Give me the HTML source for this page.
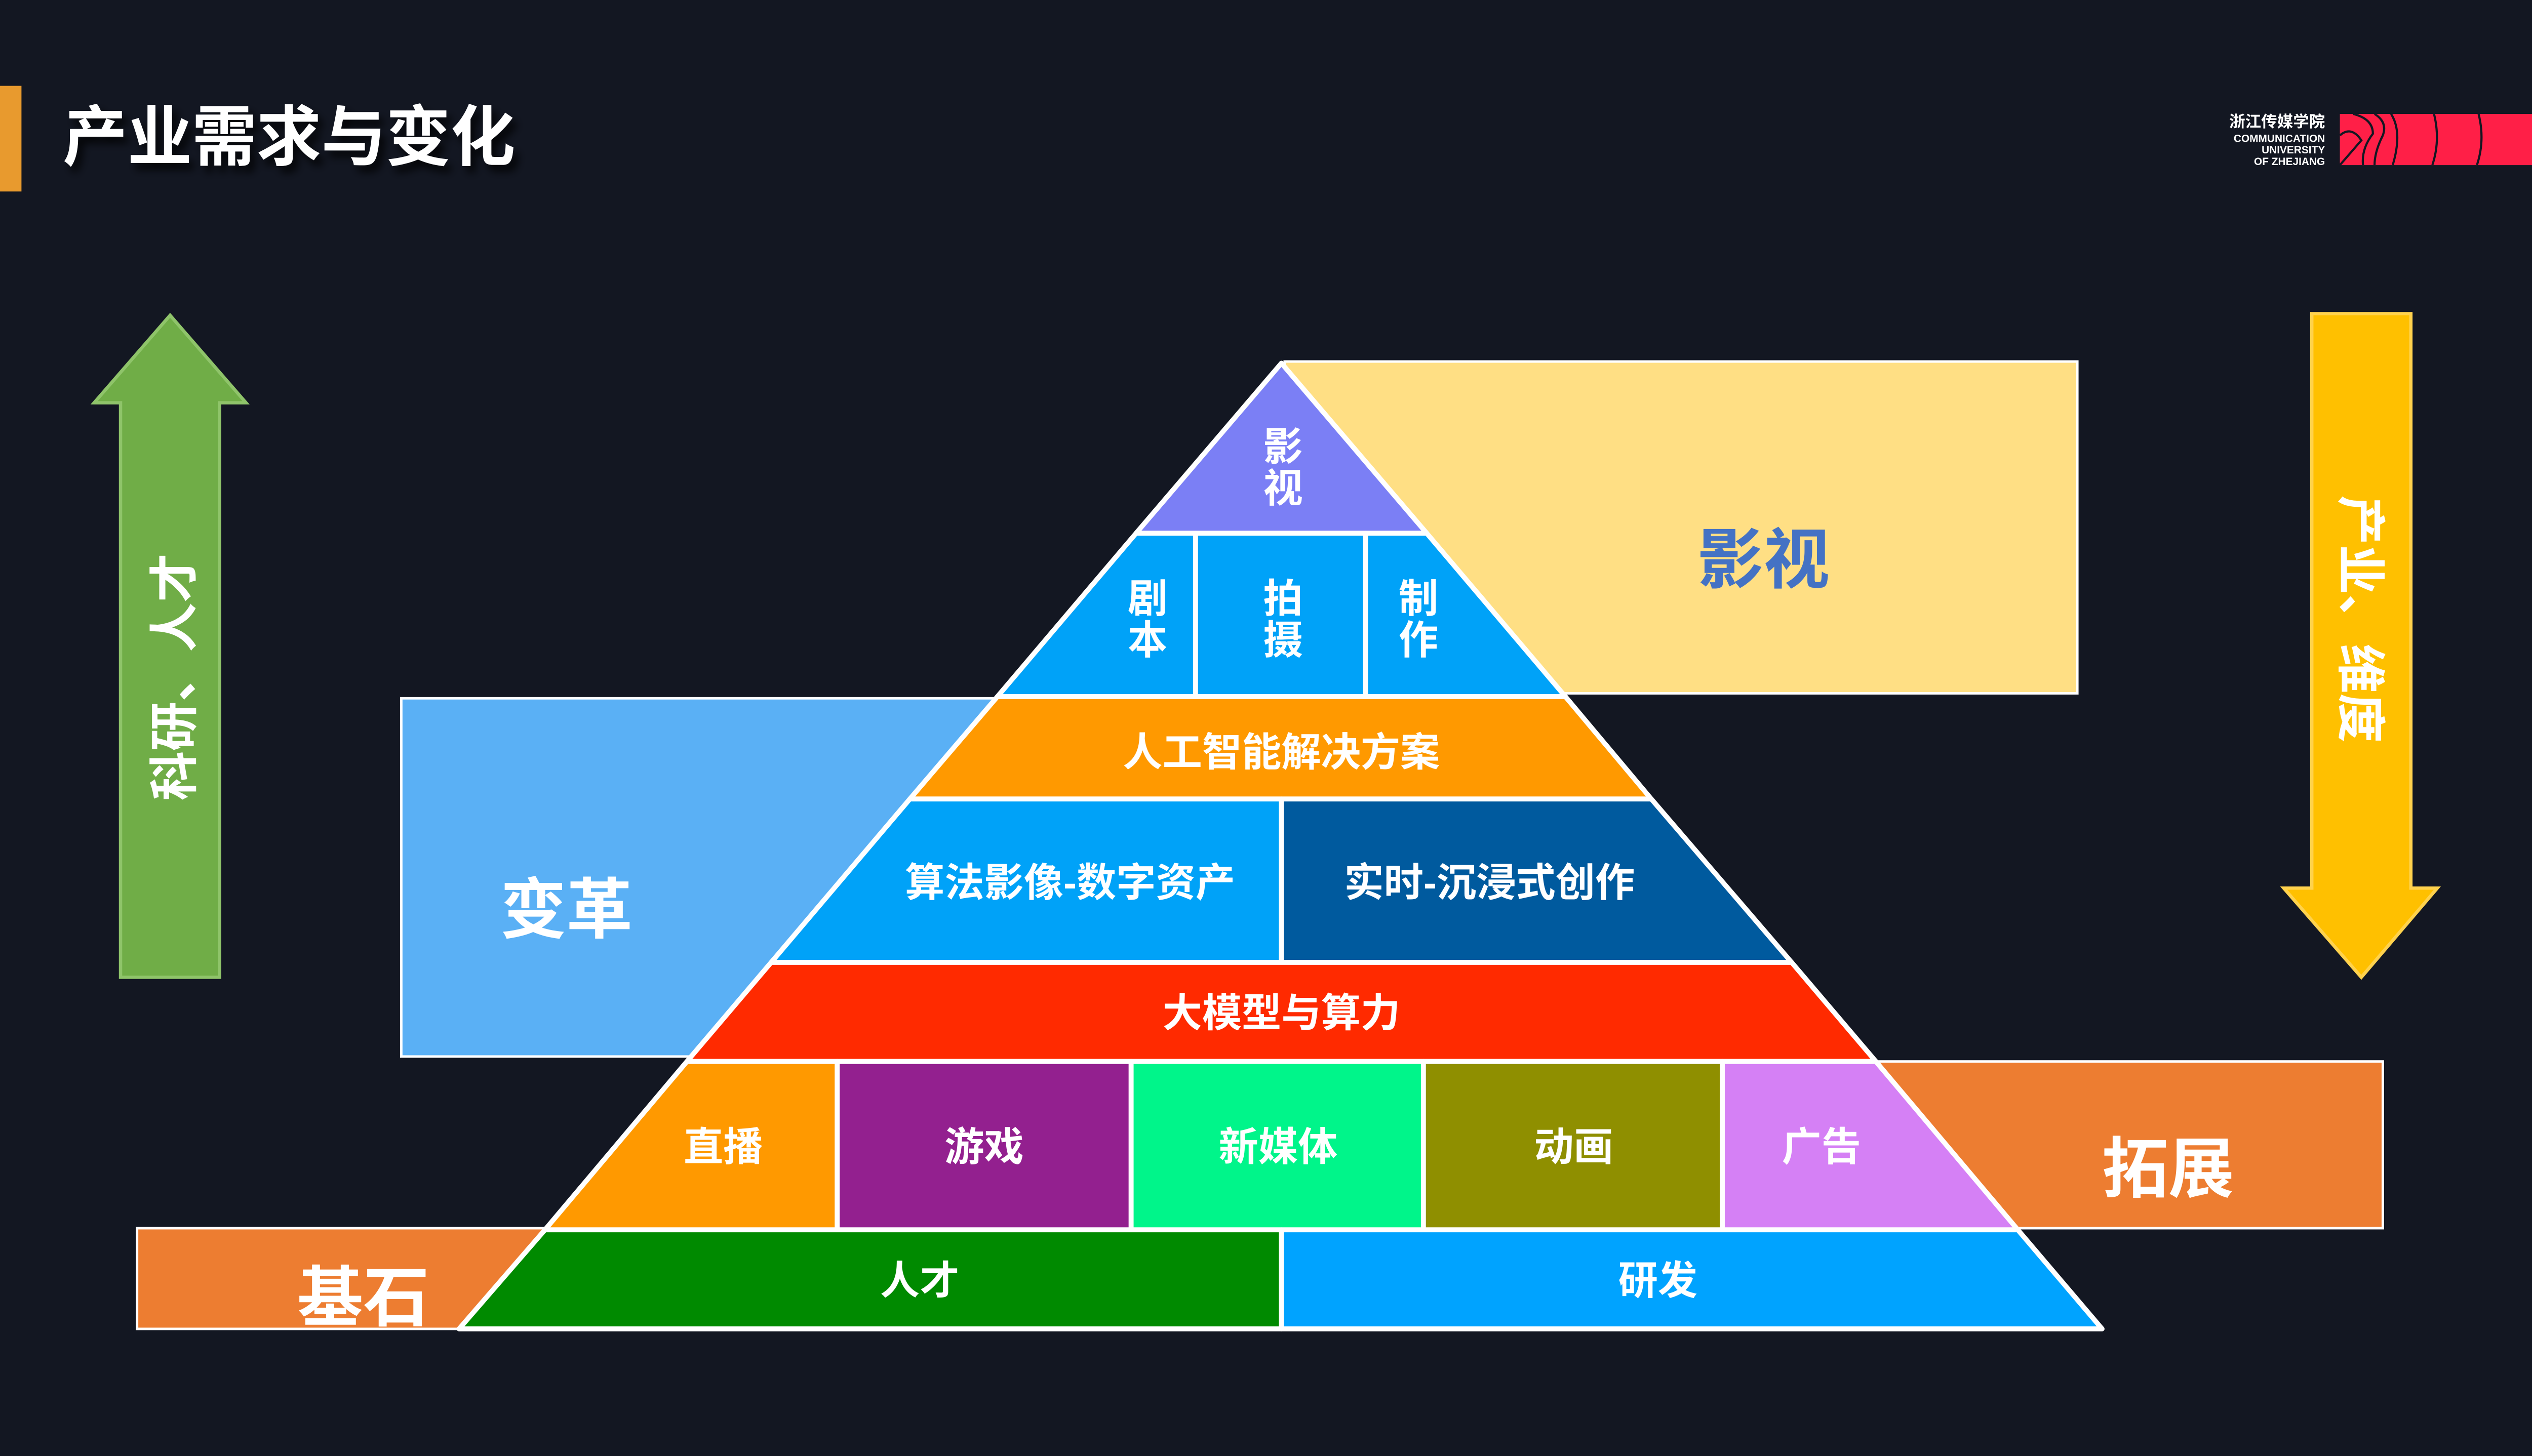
<!DOCTYPE html>
<html><head><meta charset="utf-8"><style>
html,body{margin:0;padding:0;background:#131722;width:5113px;height:2876px;overflow:hidden;}
svg{display:block;position:absolute;left:0;top:0;width:5113px;height:2876px;}
text{font-family:"Liberation Sans","Noto Sans CJK SC",sans-serif;font-weight:bold;}
</style></head><body>
<svg xmlns="http://www.w3.org/2000/svg" width="5113" height="2876" viewBox="0 0 1568 882" preserveAspectRatio="none">
<defs><filter id="sh" x="-10%" y="-10%" width="130%" height="150%"><feDropShadow dx="3" dy="4" stdDeviation="2.5" flood-color="#000" flood-opacity="0.8"/></filter></defs>
<rect width="1568" height="882" fill="#131722"/>
<rect x="0" y="52" width="13" height="64" fill="#E89A2E"/>
<text x="38" y="97" font-size="40" fill="#fff" textLength="274" lengthAdjust="spacingAndGlyphs" filter="url(#sh)">产业需求与变化</text>
<!-- logo -->
<text x="1408" y="77" font-size="9.5" fill="#fff" text-anchor="end" font-weight="normal" textLength="58" lengthAdjust="spacingAndGlyphs">浙江传媒学院</text>
<g font-size="6.4" fill="#fff" text-anchor="end" font-weight="normal">
<text x="1408" y="86">COMMUNICATION</text><text x="1408" y="93">UNIVERSITY</text><text x="1408" y="100">OF ZHEJIANG</text></g>
<path d="M1417 69 H1538 Q1533 85 1535 100 H1417 Z" fill="#FF1F47"/>
<g fill="none" stroke="#131722" stroke-width="1.3">
<path d="M1417 82 Q1424 76 1430 85 Q1424 92 1417 100"/>
<path d="M1425 69 Q1437 72 1437 81 Q1430 90 1431 100"/>
<path d="M1438 69 Q1446 74 1443 82 Q1438 92 1438 100"/>
<path d="M1448 69 Q1455 80 1449 100"/>
<path d="M1474 69 Q1478 85 1473 100"/>
<path d="M1501 69 Q1505 85 1500 100"/>
</g>
<!-- green arrow -->
<polygon points="103,191 149,244 133,244 133,592 73,592 73,244 57,244" fill="#70AD47" stroke="#8FC46A" stroke-width="2"/>
<text transform="translate(116,410) rotate(-90)" font-size="30" fill="#fff" text-anchor="middle">科研、人才</text>
<!-- yellow arrow -->
<polygon points="1400,190 1460,190 1460,538 1476,538 1430,592 1383,538 1400,538" fill="#FFC000" stroke="#FFD24D" stroke-width="2"/>
<text transform="translate(1419,375) rotate(90)" font-size="30" fill="#fff" text-anchor="middle">产业、维度</text>
<!-- side rects -->
<rect x="778" y="219" width="480" height="201" fill="#FFDF84" stroke="#fff" stroke-width="1.5"/>
<text x="1068" y="353" font-size="40" fill="#4472C4" text-anchor="middle">影视</text>
<rect x="243" y="423" width="360" height="217" fill="#5AB0F5" stroke="#fff" stroke-width="1.5"/>
<text x="343" y="565" font-size="40" fill="#fff" text-anchor="middle">变革</text>
<rect x="1130" y="643" width="313" height="101" fill="#ED7D31" stroke="#fff" stroke-width="1.5"/>
<text x="1313" y="722" font-size="40" fill="#fff" text-anchor="middle">拓展</text>
<rect x="83" y="744" width="250" height="61" fill="#ED7D31" stroke="#fff" stroke-width="1.5"/>
<text x="220" y="800" font-size="40" fill="#fff" text-anchor="middle">基石</text>
<!-- pyramid -->
<g stroke="#fff" stroke-width="3" stroke-linejoin="round">
<polygon points="776,220 864,323 688,323" fill="#7B7FF5"/>
<polygon points="688,323 724,323 724,422 604,422" fill="#00A2F8"/>
<polygon points="724,323 827,323 827,422 724,422" fill="#00A2F8"/>
<polygon points="827,323 864,323 948,422 827,422" fill="#00A2F8"/>
<polygon points="604,422 948,422 1000,484 551,484" fill="#FF9900"/>
<polygon points="551,484 776,484 776,583 467,583" fill="#00A2F8"/>
<polygon points="776,484 1000,484 1085,583 776,583" fill="#005A9E"/>
<polygon points="467,583 1085,583 1136,643 416,643" fill="#FF2A00"/>
<polygon points="416,643 507,643 507,745 330,745" fill="#FF9900"/>
<polygon points="507,643 685,643 685,745 507,745" fill="#93208F"/>
<polygon points="685,643 862,643 862,745 685,745" fill="#00F58A"/>
<polygon points="862,643 1043,643 1043,745 862,745" fill="#8F8F00"/>
<polygon points="1043,643 1136,643 1222,745 1043,745" fill="#D580F5"/>
<polygon points="330,745 776,745 776,805 278,805" fill="#008A00"/>
<polygon points="776,745 1222,745 1273,805 776,805" fill="#00A3FF"/>
</g>
<g fill="#fff" font-size="24" text-anchor="middle">
<text x="777" y="279">影</text><text x="777" y="304">视</text>
<text x="695" y="371">剧</text><text x="695" y="396">本</text>
<text x="777" y="371">拍</text><text x="777" y="396">摄</text>
<text x="859" y="371">制</text><text x="859" y="396">作</text>
<text x="776" y="464">人工智能解决方案</text>
<text x="648" y="543">算法影像-数字资产</text>
<text x="902" y="543">实时-沉浸式创作</text>
<text x="776" y="622">大模型与算力</text>
<text x="438" y="703">直播</text>
<text x="596" y="703">游戏</text>
<text x="774" y="703">新媒体</text>
<text x="953" y="703">动画</text>
<text x="1103" y="703">广告</text>
<text x="557" y="784">人才</text>
<text x="1004" y="784">研发</text>
</g>
</svg>
</body></html>
